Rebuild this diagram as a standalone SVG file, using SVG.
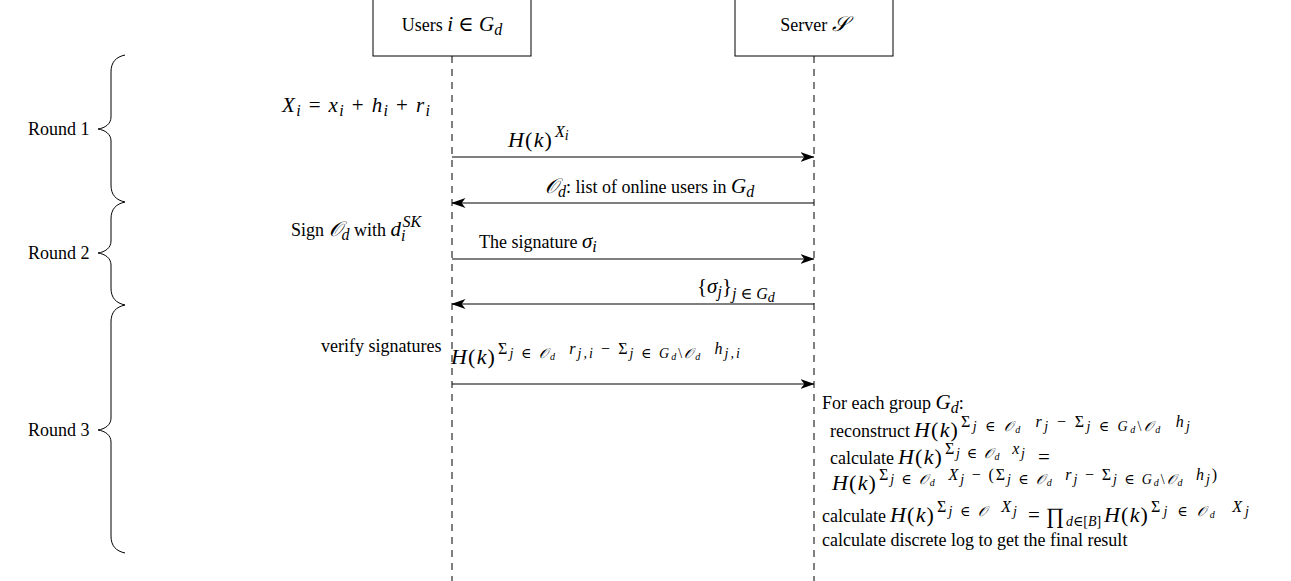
<svg xmlns="http://www.w3.org/2000/svg" width="1291" height="581" viewBox="0 0 1291 581">
<style>
.t{font-family:"Liberation Serif","DejaVu Serif",serif;font-size:18px;fill:#000}
.m{font-size:21px}
.hk{font-size:22px;letter-spacing:1.2px}
.i{font-style:italic}
.s{font-size:16px}
.ss{font-size:14px}
.sss{font-size:10px}
.big{font-size:22px}
.box{fill:#fff;stroke:#000;stroke-width:1}
.life{stroke:#000;stroke-width:1;stroke-dasharray:7 6;fill:none}
.msg{stroke:#000;stroke-width:1.2;fill:none}
.brace{stroke:#000;stroke-width:1;fill:none}
</style>
<defs>
<marker id="ah" viewBox="0 0 14 10" refX="13.5" refY="5" markerWidth="14" markerHeight="10" markerUnits="userSpaceOnUse" orient="auto">
<path d="M0,0 L14,5 L0,10 L3.8,5 Z" fill="#000"/>
</marker>
</defs>
<rect width="1291" height="581" fill="#fff"/>

<g id="lifelines">
<line class="life" x1="452" y1="56" x2="452" y2="581"/>
<line class="life" x1="814" y1="56" x2="814" y2="581"/>
</g>

<g id="node-users">
<rect class="box" x="373" y="-2" width="158" height="58"/>
<text class="t" x="452" y="31" text-anchor="middle">Users <tspan class="m i">i</tspan><tspan class="m"> ∈ </tspan><tspan class="m i">G</tspan><tspan class="s i" dy="4">d</tspan></text>
</g>

<g id="node-server">
<rect class="box" x="735" y="-2" width="158" height="58"/>
<text class="t" x="814" y="31" text-anchor="middle">Server <tspan class="m i">𝒮</tspan></text>
</g>

<g id="connectors">
<line class="msg" x1="452" y1="157" x2="814" y2="157" marker-end="url(#ah)"/>
<line class="msg" x1="814" y1="203" x2="452" y2="203" marker-end="url(#ah)"/>
<line class="msg" x1="452" y1="259" x2="814" y2="259" marker-end="url(#ah)"/>
<line class="msg" x1="814" y1="304" x2="452" y2="304" marker-end="url(#ah)"/>
<line class="msg" x1="452" y1="384" x2="814" y2="384" marker-end="url(#ah)"/>
</g>

<g id="labels">
<text class="t hk" x="508" y="147"><tspan class="i">H</tspan>(<tspan class="i">k</tspan>)</text>
<text class="t s i" x="555" y="137">X<tspan class="ss" dy="3">i</tspan></text>
<text class="t" x="545" y="193"><tspan class="m i">𝒪</tspan><tspan class="s i" dy="4">d</tspan><tspan dy="-4">: list of online users in </tspan><tspan class="m i">G</tspan><tspan class="s i" dy="4">d</tspan></text>
<text class="t" x="479" y="248">The signature <tspan class="m i">σ</tspan><tspan class="s i" dy="4">i</tspan></text>
<text class="t" x="697" y="293"><tspan class="m">{</tspan><tspan class="m i">σ</tspan><tspan class="s i" dy="4">j</tspan><tspan class="m" dy="-4">}</tspan><tspan class="s i" dy="6">j</tspan><tspan class="s"> ∈ </tspan><tspan class="s i">G</tspan><tspan class="ss i" dy="3">d</tspan></text>
<text class="t hk" x="451" y="364"><tspan class="i">H</tspan>(<tspan class="i">k</tspan>)</text>
<text class="t s" x="498" y="354" textLength="242">Σ<tspan class="ss i" dy="4">j ∈ 𝒪</tspan><tspan class="sss i" dy="2">d</tspan><tspan class="i" dy="-6">&#160;&#160;r</tspan><tspan class="ss i" dy="4">j,i</tspan><tspan dy="-4">&#160;−&#160;Σ</tspan><tspan class="ss i" dy="4">j ∈ G</tspan><tspan class="sss i" dy="2">d</tspan><tspan class="ss" dy="-2">\</tspan><tspan class="ss i">𝒪</tspan><tspan class="sss i" dy="2">d</tspan><tspan class="i" dy="-6">&#160;&#160;h</tspan><tspan class="ss i" dy="4">j,i</tspan></text>
</g>

<g id="notes-users">
<text class="t" x="282" y="112" textLength="148"><tspan class="m i">X</tspan><tspan class="s i" dy="4">i</tspan><tspan class="m" dy="-4"> = </tspan><tspan class="m i">x</tspan><tspan class="s i" dy="4">i</tspan><tspan class="m" dy="-4"> + </tspan><tspan class="m i">h</tspan><tspan class="s i" dy="4">i</tspan><tspan class="m" dy="-4"> + </tspan><tspan class="m i">r</tspan><tspan class="s i" dy="4">i</tspan></text>
<text class="t" x="291" y="236">Sign <tspan class="m i">𝒪</tspan><tspan class="s i" dy="4">d</tspan><tspan dy="-4"> with </tspan><tspan class="m i">d</tspan><tspan class="s i" dy="5">i</tspan><tspan class="s i" dx="-3" dy="-14">SK</tspan></text>
<text class="t" x="321" y="352">verify signatures</text>
</g>

<g id="notes-server">
<text class="t" x="822" y="409">For each group <tspan class="m i">G</tspan><tspan class="s i" dy="4">d</tspan><tspan dy="-4">:</tspan></text>

<text class="t" x="830" y="437">reconstruct</text>
<text class="t hk" x="914" y="437"><tspan class="i">H</tspan>(<tspan class="i">k</tspan>)</text>
<text class="t s" x="961" y="427" textLength="229">Σ<tspan class="ss i" dy="4">j ∈ 𝒪</tspan><tspan class="sss i" dy="2">d</tspan><tspan class="i" dy="-6">&#160;&#160;r</tspan><tspan class="ss i" dy="4">j</tspan><tspan dy="-4">&#160;−&#160;Σ</tspan><tspan class="ss i" dy="4">j ∈ G</tspan><tspan class="sss i" dy="2">d</tspan><tspan class="ss" dy="-2">\</tspan><tspan class="ss i">𝒪</tspan><tspan class="sss i" dy="2">d</tspan><tspan class="i" dy="-6">&#160;&#160;h</tspan><tspan class="ss i" dy="4">j</tspan></text>

<text class="t" x="830" y="464">calculate</text>
<text class="t hk" x="898" y="464"><tspan class="i">H</tspan>(<tspan class="i">k</tspan>)</text>
<text class="t s" x="945" y="454" textLength="80">Σ<tspan class="ss i" dy="4">j ∈ 𝒪</tspan><tspan class="sss i" dy="2">d</tspan><tspan class="i" dy="-6">&#160;&#160;x</tspan><tspan class="ss i" dy="4">j</tspan></text>
<text class="t m" x="1038" y="464">=</text>

<text class="t hk" x="832" y="490"><tspan class="i">H</tspan>(<tspan class="i">k</tspan>)</text>
<text class="t s" x="879" y="480" textLength="338">Σ<tspan class="ss i" dy="4">j ∈ 𝒪</tspan><tspan class="sss i" dy="2">d</tspan><tspan class="i" dy="-6">&#160;&#160;X</tspan><tspan class="ss i" dy="4">j</tspan><tspan dy="-4">&#160;−&#160;(Σ</tspan><tspan class="ss i" dy="4">j ∈ 𝒪</tspan><tspan class="sss i" dy="2">d</tspan><tspan class="i" dy="-6">&#160;&#160;r</tspan><tspan class="ss i" dy="4">j</tspan><tspan dy="-4">&#160;−&#160;Σ</tspan><tspan class="ss i" dy="4">j ∈ G</tspan><tspan class="sss i" dy="2">d</tspan><tspan class="ss" dy="-2">\</tspan><tspan class="ss i">𝒪</tspan><tspan class="sss i" dy="2">d</tspan><tspan class="i" dy="-6">&#160;&#160;h</tspan><tspan class="ss i" dy="4">j</tspan><tspan dy="-4">)</tspan></text>

<text class="t" x="822" y="522">calculate</text>
<text class="t hk" x="890" y="522"><tspan class="i">H</tspan>(<tspan class="i">k</tspan>)</text>
<text class="t s" x="937" y="512" textLength="80">Σ<tspan class="ss i" dy="4">j ∈ 𝒪</tspan><tspan class="i" dy="-4">&#160;&#160;X</tspan><tspan class="ss i" dy="4">j</tspan></text>
<text class="t m" x="1028" y="522">=</text>
<text class="t big" x="1046" y="523">∏</text>
<text class="t ss" x="1066" y="526"><tspan class="i">d</tspan>∈[<tspan class="i">B</tspan>]</text>
<text class="t hk" x="1104" y="522"><tspan class="i">H</tspan>(<tspan class="i">k</tspan>)</text>
<text class="t s" x="1151" y="512" textLength="98">Σ<tspan class="ss i" dy="4">j ∈ 𝒪</tspan><tspan class="sss i" dy="2">d</tspan><tspan class="i" dy="-6">&#160;&#160;X</tspan><tspan class="ss i" dy="4">j</tspan></text>

<text class="t" x="822" y="546">calculate discrete log to get the final result</text>
</g>

<g id="rounds">
<path class="brace" d="M125,55 C116,57 111,62 111,72 L111,117 C111,124 105,128 98,129 C105,130 111,134 111,141 L111,185 C111,195 116,200 125,202"/>
<path class="brace" d="M125,202 C116,204 111,209 111,219 L111,241 C111,248 105,252 98,253 C105,254 111,258 111,265 L111,288 C111,298 116,303 125,305"/>
<path class="brace" d="M125,305 C116,307 111,312 111,322 L111,418 C111,425 105,429 98,430 C105,431 111,435 111,442 L111,536 C111,546 116,551 125,553"/>
<text class="t" x="28" y="135">Round 1</text>
<text class="t" x="28" y="259">Round 2</text>
<text class="t" x="28" y="436">Round 3</text>
</g>
</svg>
